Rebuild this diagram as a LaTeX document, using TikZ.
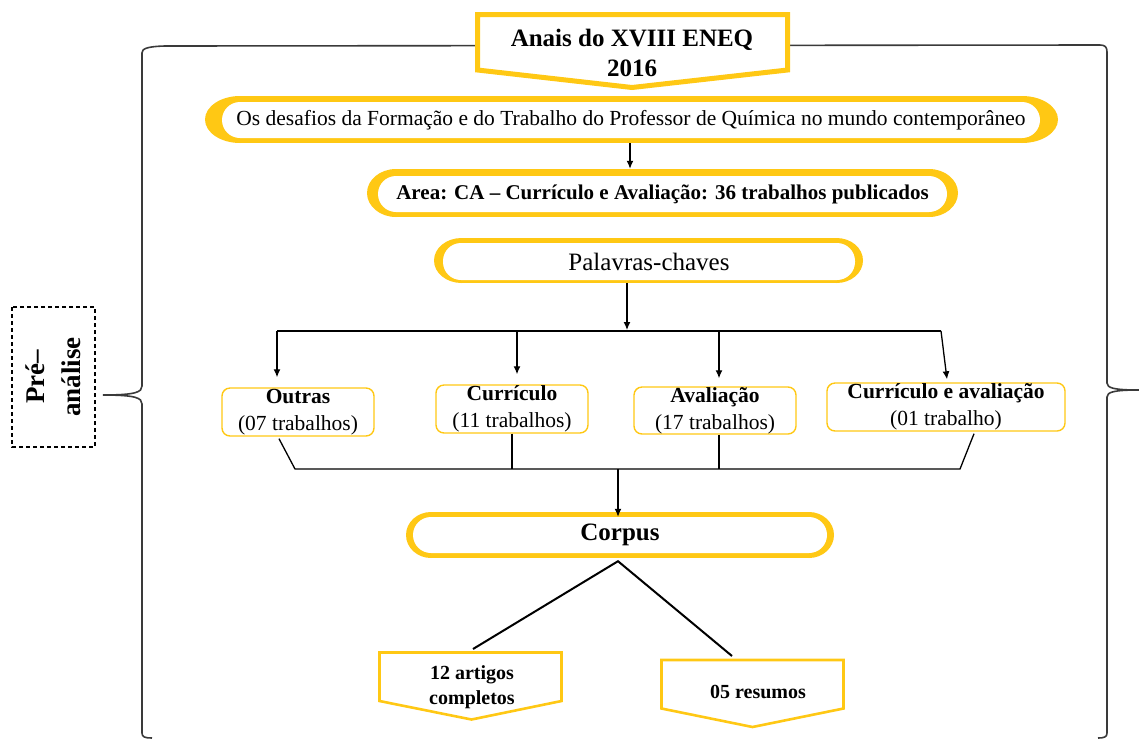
\documentclass[tikz,border=0pt]{standalone}
\usepackage{fontspec}
\setmainfont{Liberation Serif}
\usetikzlibrary{arrows.meta,calc}
\definecolor{gold}{HTML}{FFC814}
\definecolor{bracegray}{HTML}{3A3A3A}
\begin{document}
\begin{tikzpicture}[x=1pt,y=-1pt,
  scrollin/.style={rectangle, rounded corners=18pt, fill=white, inner sep=0pt, minimum height=36pt, align=center},
  catbox/.style={rectangle, rounded corners=8pt, draw=gold, line width=1.4pt, fill=white, inner sep=0pt, align=center, font=\fontsize{21.5}{27}\selectfont},
  conn/.style={line width=1.3pt, black},
  arr/.style={conn, -{Latex[length=8pt,width=7pt]}},
  bracepath/.style={line width=1.6pt, bracegray},
  pentb/.style={draw=gold, fill=white, line width=2.6pt, line join=miter},
  scrollfill/.style={fill=gold}
]
\useasboundingbox (0,0) rectangle (1139,740);

% braces
\draw[bracepath] (152,738) .. controls (145,738) and (142,737) .. (142,733) -- (142,404)
  .. controls (142,398) and (136,395) .. (103,395)
  .. controls (136,395) and (142,392) .. (142,386) -- (142,53)
  .. controls (142,49) and (146,46.5) .. (165,46) -- (1100,45)
  .. controls (1105,45) and (1107,47) .. (1107,52) -- (1107,383)
  .. controls (1107,388) and (1114,390) .. (1139,390)
  .. controls (1114,390) and (1107,392) .. (1107,397) -- (1107,733)
  .. controls (1107,737) and (1104,738) .. (1098,738);

% title pentagon
\filldraw[draw=gold, fill=white, line width=5pt, line join=miter] (477.5,14.5) -- (787.5,14.5) -- (787.5,70) -- (632,87.5) -- (477.5,70) -- cycle;
\node[font=\fontsize{25}{30}\selectfont\bfseries, align=center] (title) at (632,53) {Anais do XVIII ENEQ\\2016};

% scroll outer shapes
\fill[scrollfill] (240,96) rectangle (1022,143);
\fill[scrollfill] (240,119.5) ellipse [x radius=35pt, y radius=23.5pt];
\fill[scrollfill] (1022,119.5) ellipse [x radius=36pt, y radius=23.5pt];
\fill[scrollfill] (396,169) rectangle (929,217);
\fill[scrollfill] (396,193) ellipse [x radius=29pt, y radius=24pt];
\fill[scrollfill] (929,193) ellipse [x radius=29pt, y radius=24pt];
\fill[scrollfill] (461.5,238) rectangle (836.5,283);
\fill[scrollfill] (461.5,260.5) ellipse [x radius=27.5pt, y radius=22.5pt];
\fill[scrollfill] (836.5,260.5) ellipse [x radius=26.5pt, y radius=22.5pt];
\fill[scrollfill] (431,512) rectangle (809,558);
\fill[scrollfill] (431,535) ellipse [x radius=25pt, y radius=23pt];
\fill[scrollfill] (809,535) ellipse [x radius=25pt, y radius=23pt];

% scroll nodes
\node[scrollin, minimum width=818pt, font=\fontsize{21.5}{26}\selectfont] (os) at (631,120) {Os desafios da Formação e do Trabalho do Professor de Química no mundo contemporâneo};
\node[scrollin, minimum width=569pt, font=\fontsize{21}{26}\selectfont\bfseries] (area) at (662.5,194) {Area: CA – Currículo e Avaliação: 36 trabalhos publicados};
\node[scrollin, minimum width=412pt, minimum height=37pt, font=\fontsize{25}{30}\selectfont] (pal) at (649,261.5) {Palavras-chaves};
\node[scrollin, minimum width=414pt, font=\fontsize{25}{30}\selectfont\bfseries] (corpus) at (620,535) {Corpus};

% category boxes
\node[catbox, minimum width=152pt, minimum height=48pt] (outras) at (298,412) {\textbf{Outras}\\(07 trabalhos)};
\node[catbox, minimum width=152pt, minimum height=48pt] (curr) at (512,409) {\textbf{Currículo}\\(11 trabalhos)};
\node[catbox, minimum width=162pt, minimum height=47pt] (aval) at (715,410.5) {\textbf{Avaliação}\\(17 trabalhos)};
\node[catbox, minimum width=238pt, minimum height=48pt] (cea) at (946,407) {\textbf{Currículo e avaliação}\\(01 trabalho)};

% bottom pentagons
\filldraw[pentb] (379.5,652.5) -- (561.5,652.5) -- (561.5,701) -- (471.5,719.5) -- (379.5,701) -- cycle;
\filldraw[pentb] (661.5,660) -- (843.5,660) -- (843.5,708.5) -- (752.5,727) -- (661.5,708.5) -- cycle;
\node[font=\fontsize{20}{25}\selectfont\bfseries, align=center] (art) at (472,687) {12 artigos\\completos};
\node[font=\fontsize{20}{25}\selectfont\bfseries, align=center] (res) at (758,692) {05 resumos};

% pre-analise
\node[draw, dash pattern=on 4pt off 3pt, line width=1.1pt, minimum width=140pt, minimum height=83pt, rotate=90, align=center, font=\fontsize{27}{36}\selectfont\bfseries] (pre) at (53.5,377) {Pré–\\análise};

% connectors
\draw[arr] ($(os.south)+(-1,5)$) -- ($(area.north)+(-32.5,-7)$);
\coordinate (barL) at (277,331);
\coordinate (barR) at (941,331);
\coordinate (barM) at (627,330);
\draw[arr] ($(pal.south)+(-22,3)$) -- (barM);
\draw[line width=2.4pt] (barL) -- (barR);
\coordinate (b2) at (517,331);
\coordinate (b3) at (719,331);
\draw[arr, shorten >=10pt] (barL) -- (barL |- outras.north);
\draw[arr, shorten >=10pt] (b2) -- (b2 |- curr.north);
\draw[arr, shorten >=8pt] (b3) -- (b3 |- aval.north);
\draw[arr] (barR) -- ($(cea.north)+(1,-3)$);

\coordinate (busL) at (295,469);
\coordinate (busR) at (960,469);
\coordinate (busM) at (618,469);
\draw[conn] ($(outras.south)+(-19,2)$) -- (busL) -- (busR) -- ($(cea.south)+(28,2)$);
\draw[conn] (curr.south) -- (curr.south |- busL);
\coordinate (avB) at ($(aval.south)+(4,0)$);
\draw[conn] (avB) -- (avB |- busL);
\draw[arr] (busM) -- (busM |- corpus.north);

\coordinate (cb) at ($(corpus.south)+(-2,8)$);
\coordinate (artTop) at (473,649);
\coordinate (resTop) at (732,656);
\draw[line width=2pt] (artTop) -- (cb) -- (resTop);
\end{tikzpicture}
\end{document}
